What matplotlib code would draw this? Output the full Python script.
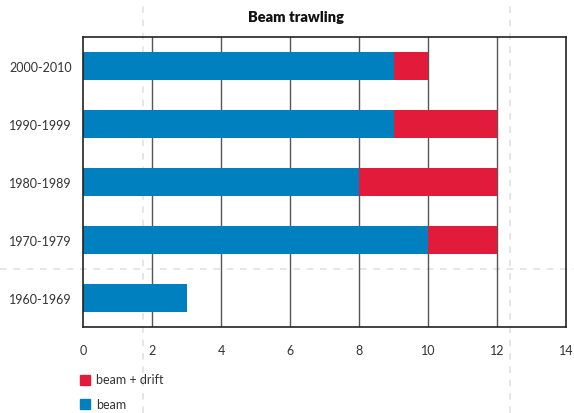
import matplotlib
matplotlib.use("Agg")
import matplotlib.pyplot as plt
from matplotlib.lines import Line2D
from matplotlib.patches import Rectangle

categories = ["1960-1969", "1970-1979", "1980-1989", "1990-1999", "2000-2010"]
beam = [3, 10, 8, 9, 9]
beam_drift = [0, 2, 4, 3, 1]
xticks = [0, 2, 4, 6, 8, 10, 12, 14]

blue = "#0080BE"
red = "#E31B3A"
plt.rcParams['font.family'] = ['Lato', 'DejaVu Sans']

fig = plt.figure(figsize=(5.74, 4.14), dpi=100)
ax = fig.add_axes([83/574, 1-328/414, (566-83)/574, (328-38)/414])

# background guide lines (dashed, light)
for xp in [143, 510]:
    fig.add_artist(Line2D([xp/574, xp/574], [0, 1], transform=fig.transFigure,
                          color="#e2e2e2", lw=1.2, ls=(0, (4, 4)), zorder=0))
fig.add_artist(Line2D([0, 1], [1-270/414, 1-270/414], transform=fig.transFigure,
                      color="#e2e2e2", lw=1.2, ls=(0, (4, 4)), zorder=0))
ax.set_facecolor("none")

y = list(range(len(categories)))
ax.barh(y, beam, height=0.47, color=blue, zorder=3)
ax.barh(y, beam_drift, left=beam, height=0.47, color=red, zorder=3)

ax.set_xlim(0, 14)
ax.set_ylim(-0.5, len(categories) - 0.5)
ax.set_xticks(xticks)
ax.set_xticklabels([str(t) for t in xticks])
ax.set_yticks(y)
ax.set_yticklabels(categories)
ax.tick_params(axis='both', length=0, labelsize=9, colors="#333333")
ax.tick_params(axis='x', pad=12)
ax.tick_params(axis='y', pad=8)
for t in xticks[1:-1]:
    ax.axvline(t, color="#555555", lw=1.0, zorder=2)
for s in ax.spines.values():
    s.set_color("#222222")
    s.set_linewidth(1.2)
    s.set_zorder(4)

fig.text(296/574, 1-18/414, "Beam trawling", ha="center", va="center",
         fontsize=10.5, fontweight="heavy", color="#111111")

# legend
for yy, col, lab in [(380.5, red, "beam + drift"), (405, blue, "beam")]:
    fig.add_artist(Rectangle((80/574, 1-(yy+5)/414), 10/574, 10/414,
                             transform=fig.transFigure, color=col))
    fig.text(96/574, 1-yy/414, lab, ha="left", va="center", fontsize=9, color="#333333")

fig.savefig("out.png", dpi=100)
